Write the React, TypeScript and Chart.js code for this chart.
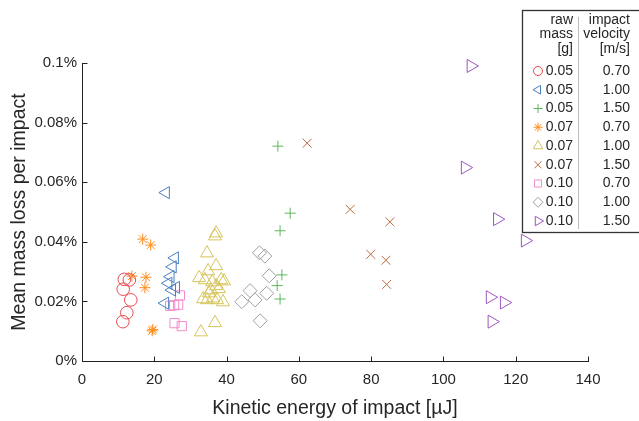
import React, { useEffect, useRef } from 'react';
import { Chart, registerables } from 'chart.js';
import { drawPoint } from 'chart.js/helpers';

Chart.register(...registerables);

const FONT = "'Liberation Sans', Arial, Helvetica, sans-serif";

// ---- axis ticks ----
const xTickValues = [0, 20, 40, 60, 80, 100, 120, 140];
const yTickValues = [0, 0.02, 0.04, 0.06, 0.08, 0.1];
const yTickLabels = ['0%', '0.02%', '0.04%', '0.06%', '0.08%', '0.1%'];

// ---- legend table ----
const massLabels = ['0.05', '0.05', '0.05', '0.07', '0.07', '0.07', '0.10', '0.10', '0.10'];
const velocityLabels = ['0.70', '1.00', '1.50', '0.70', '1.00', '1.50', '0.70', '1.00', '1.50'];

// ---- data: [kinetic energy µJ, mean mass loss %] ----
const m005v070: [number, number][] = [
  [11.7, 0.0274], [13.1, 0.0272], [11.4, 0.0241], [13.5, 0.0205], [12.4, 0.0162], [11.3, 0.0132],
];
const m005v100: [number, number][] = [
  [23.2, 0.0565], [25.7, 0.0346], [25.1, 0.0316], [24.5, 0.0283], [23.9, 0.0261], [26.0, 0.0247],
  [24.9, 0.0238], [23.0, 0.0194],
];
const m005v150: [number, number][] = [
  [54.2, 0.0721], [57.6, 0.0496], [54.8, 0.0437], [55.3, 0.0289], [54.0, 0.0253], [54.8, 0.0208],
];
const m007v070: [number, number][] = [
  [16.8, 0.0409], [19.0, 0.0389], [13.8, 0.0285], [17.7, 0.0281], [17.4, 0.0246], [19.6, 0.0106],
  [19.4, 0.0101],
];
const m007v100: [number, number][] = [
  [37.1, 0.0429], [36.8, 0.0419], [34.6, 0.0362], [37.1, 0.0319], [34.9, 0.0302], [32.4, 0.0279],
  [34.0, 0.0272], [36.0, 0.0265], [38.5, 0.0272], [39.3, 0.0268], [37.1, 0.0252], [35.7, 0.0238],
  [37.9, 0.0242], [35.1, 0.0228], [33.5, 0.0208], [34.6, 0.0205], [36.2, 0.0211], [37.4, 0.0205],
  [39.0, 0.0198], [36.8, 0.0128], [32.9, 0.0097],
];
const m007v150: [number, number][] = [
  [62.3, 0.0731], [74.2, 0.0509], [85.2, 0.0467], [79.9, 0.0358], [84.1, 0.0338], [84.3, 0.0257],
];
const m010v070: [number, number][] = [
  [27.1, 0.022], [24.4, 0.0185], [25.5, 0.0187], [26.6, 0.0189], [25.6, 0.0127], [27.6, 0.0117],
];
const m010v100: [number, number][] = [
  [49.1, 0.0363], [50.6, 0.0352], [51.8, 0.0286], [46.5, 0.0236], [44.2, 0.0199], [47.9, 0.0205],
  [51.1, 0.0227], [49.3, 0.0135],
];
const m010v150: [number, number][] = [
  [107.6, 0.099], [106.0, 0.0649], [114.9, 0.0476], [122.6, 0.0404], [112.9, 0.0214], [116.8, 0.0196],
  [113.4, 0.0132],
];

const seriesData = [m005v070, m005v100, m005v150, m007v070, m007v100, m007v150, m010v070, m010v100, m010v150];

// ---- styles ----
const seriesStyles = [
  { color: '#e84a4f', pointStyle: 'circle', radius: 6.3, rotation: 0, legendRadius: 4.5 },
  { color: '#4a7fc1', pointStyle: 'triangle', radius: 7, rotation: -90, legendRadius: 5 },
  { color: '#5cb85c', pointStyle: 'cross', radius: 5.5, rotation: 0, legendRadius: 4.5 },
  { color: '#ff8c1a', pointStyle: 'star', radius: 5.5, rotation: 0, legendRadius: 4.5 },
  { color: '#d6c45a', pointStyle: 'triangle', radius: 7.5, rotation: 0, legendRadius: 5.5 },
  { color: '#bc6a40', pointStyle: 'crossRot', radius: 6.3, rotation: 0, legendRadius: 5 },
  { color: '#f48ac8', pointStyle: 'rect', radius: 6.5, rotation: 0, legendRadius: 5 },
  { color: '#a0a0a0', pointStyle: 'rectRot', radius: 7, rotation: 0, legendRadius: 5 },
  { color: '#9c55c0', pointStyle: 'triangle', radius: 7.5, rotation: 90, legendRadius: 5.5 },
];

const TEXT = '#262626';

const insideTicksPlugin = {
  id: 'insideTicks',
  afterDraw(chart: any) {
    const { ctx, scales } = chart;
    const x = scales.x;
    const y = scales.y;
    ctx.save();
    ctx.strokeStyle = '#222';
    ctx.lineWidth = 1;
    ctx.beginPath();
    const bottom = Math.round(y.bottom) + 0.5;
    const left = Math.round(x.left) + 0.5;
    xTickValues.forEach((v) => {
      const px = Math.round(x.getPixelForValue(v)) + 0.5;
      ctx.moveTo(px, bottom);
      ctx.lineTo(px, bottom - 5);
    });
    yTickValues.forEach((v) => {
      const py = Math.round(y.getPixelForValue(v)) + 0.5;
      ctx.moveTo(left, py);
      ctx.lineTo(left + 5, py);
    });
    ctx.stroke();
    ctx.restore();
  },
};

const tableLegendPlugin = {
  id: 'tableLegend',
  afterDraw(chart: any) {
    const ctx = chart.ctx;
    ctx.save();
    // frame
    ctx.fillStyle = '#ffffff';
    ctx.fillRect(522, 10, 140, 222);
    ctx.strokeStyle = '#333';
    ctx.lineWidth = 1.3;
    ctx.strokeRect(522.5, 10.5, 140, 222);
    // separator
    ctx.strokeStyle = '#bbbbbb';
    ctx.lineWidth = 1;
    ctx.beginPath();
    ctx.moveTo(578.5, 17);
    ctx.lineTo(578.5, 229);
    ctx.stroke();
    // headers
    ctx.fillStyle = TEXT;
    ctx.font = `14px ${FONT}`;
    ctx.textBaseline = 'middle';
    ctx.textAlign = 'right';
    const headL = ['raw', 'mass', '[g]'];
    const headR = ['impact', 'velocity', '[m/s]'];
    headL.forEach((t, i) => ctx.fillText(t, 573, 20 + i * 14.5));
    headR.forEach((t, i) => ctx.fillText(t, 630, 20 + i * 14.5));
    // rows
    for (let i = 0; i < massLabels.length; i++) {
      const yy = 71 + i * 18.75;
      const st = seriesStyles[i];
      ctx.strokeStyle = st.color;
      ctx.fillStyle = 'rgba(0,0,0,0)';
      ctx.lineWidth = 1;
      drawPoint(ctx, { pointStyle: st.pointStyle as any, radius: st.legendRadius, rotation: st.rotation, borderWidth: 1 } as any, 538, yy);
      ctx.fillStyle = TEXT;
      ctx.fillText(massLabels[i], 573, yy);
      ctx.fillText(velocityLabels[i], 630, yy);
    }
    ctx.restore();
  },
};

export default function App() {
  const ref = useRef<HTMLCanvasElement | null>(null);

  useEffect(() => {
    if (!ref.current) return;
    const chart = new Chart(ref.current, {
      type: 'scatter',
      data: {
        datasets: seriesData.map((pts, i) => ({
          label: `${massLabels[i]} g, ${velocityLabels[i]} m/s`,
          data: pts.map(([x, y]) => ({ x, y })),
          pointStyle: seriesStyles[i].pointStyle as any,
          pointRadius: seriesStyles[i].radius,
          pointRotation: seriesStyles[i].rotation,
          borderColor: seriesStyles[i].color,
          pointBorderColor: seriesStyles[i].color,
          backgroundColor: 'rgba(0,0,0,0)',
          pointBackgroundColor: 'rgba(0,0,0,0)',
          pointBorderWidth: 1,
          showLine: false,
          clip: false as any,
        })),
      },
      options: {
        responsive: false,
        animation: false,
        events: [],
        layout: { padding: { top: 63, right: 51, left: 0, bottom: 0 } },
        plugins: { legend: { display: false }, tooltip: { enabled: false } },
        scales: {
          x: {
            type: 'linear',
            min: 0,
            max: 140,
            afterBuildTicks: (scale: any) => {
              scale.ticks = xTickValues.map((v) => ({ value: v }));
            },
            ticks: {
              font: { family: FONT, size: 15 },
              color: TEXT,
              padding: 10,
              callback: (v: any) => String(v),
            },
            grid: { display: false, drawTicks: false },
            border: { display: true, color: '#222', width: 1 },
            title: {
              display: true,
              text: 'Kinetic energy of impact [µJ]',
              font: { family: FONT, size: 19.5 },
              color: TEXT,
              padding: { top: 0, bottom: 1 },
            },
            afterFit: (scale: any) => {
              scale.height = 60;
            },
          },
          y: {
            type: 'linear',
            min: 0,
            max: 0.1,
            afterBuildTicks: (scale: any) => {
              scale.ticks = yTickValues.map((v) => ({ value: v }));
            },
            ticks: {
              font: { family: FONT, size: 15 },
              color: TEXT,
              padding: 5,
              callback: (_v: any, idx: number) => yTickLabels[idx],
            },
            grid: { display: false, drawTicks: false },
            border: { display: true, color: '#222', width: 1 },
            title: {
              display: true,
              text: 'Mean mass loss per impact',
              font: { family: FONT, size: 19.5 },
              color: TEXT,
              padding: { top: 8, bottom: 0 },
            },
            afterFit: (scale: any) => {
              scale.width = 82;
            },
          },
        },
      },
      plugins: [insideTicksPlugin, tableLegendPlugin],
    });
    return () => chart.destroy();
  }, []);

  return (
    <div style={{ position: 'fixed', left: 0, top: 0, width: 639, height: 421, background: '#fff' }}>
      <canvas ref={ref} width={639} height={421} style={{ display: 'block', width: 639, height: 421 }} />
    </div>
  );
}
